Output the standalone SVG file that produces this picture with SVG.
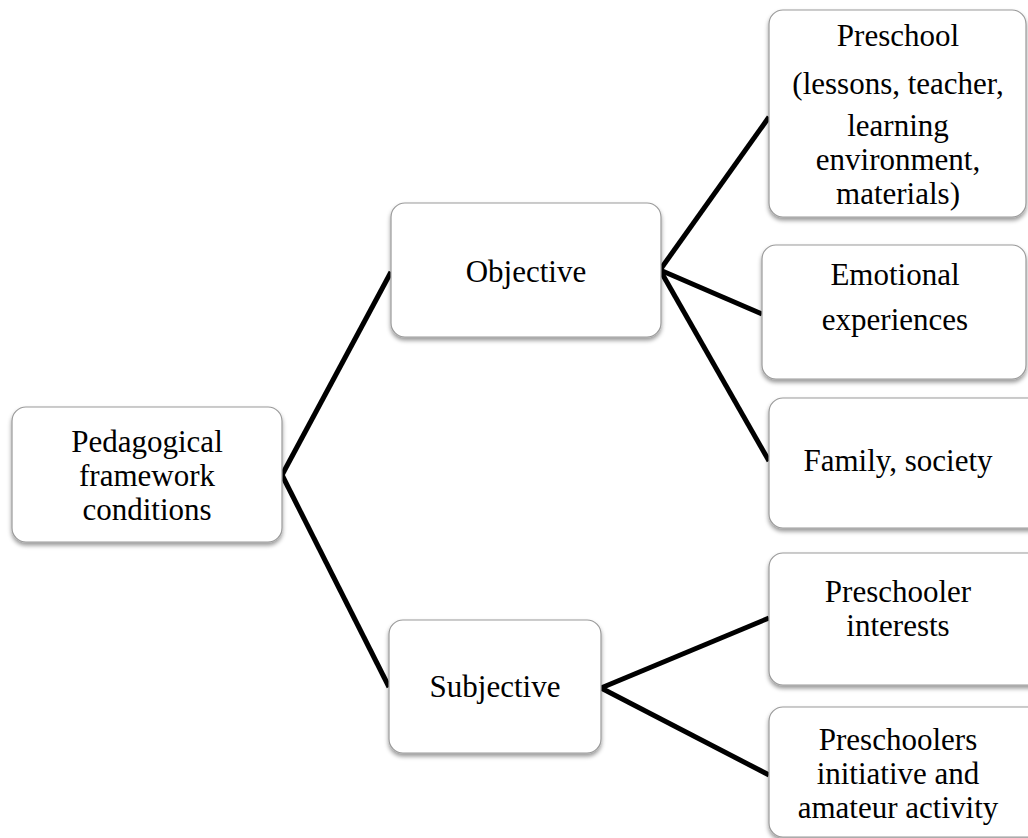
<svg xmlns="http://www.w3.org/2000/svg" width="1028" height="838" viewBox="0 0 1028 838">
<style>
.box{fill:#ffffff;stroke:#9a9a9a;stroke-width:1.2;filter:url(#sh)}
.t{font-family:"Liberation Serif","Times New Roman",serif;font-size:31px;fill:#000;text-anchor:middle}
.c{stroke:#000;stroke-width:5;fill:none;stroke-linecap:butt}
</style>
<defs>
<filter id="sh" x="-10%" y="-10%" width="120%" height="130%">
<feDropShadow dx="0" dy="3" stdDeviation="2" flood-color="#000" flood-opacity="0.4"/>
</filter>
</defs>
<rect width="1028" height="838" fill="#ffffff"/>
<g id="connectors">
<line class="c" x1="282" y1="475" x2="391" y2="272"/>
<line class="c" x1="282" y1="475" x2="389" y2="687"/>
<line class="c" x1="660" y1="270" x2="769" y2="117"/>
<line class="c" x1="660" y1="270" x2="762" y2="314"/>
<line class="c" x1="660" y1="270" x2="769" y2="461"/>
<line class="c" x1="601" y1="688" x2="769" y2="618"/>
<line class="c" x1="601" y1="688" x2="769" y2="775"/>
</g>
<g id="root">
<rect class="box" x="12" y="407" width="270" height="135" rx="14"/>
<text class="t" x="147" y="452">Pedagogical</text>
<text class="t" x="147" y="486">framework</text>
<text class="t" x="147" y="520">conditions</text>
</g>
<g id="objective">
<rect class="box" x="391" y="203" width="270" height="134" rx="14"/>
<text class="t" x="526" y="282">Objective</text>
</g>
<g id="subjective">
<rect class="box" x="389" y="620" width="212" height="133" rx="14"/>
<text class="t" x="495" y="697">Subjective</text>
</g>
<g id="preschool">
<rect class="box" x="769" y="10" width="257" height="207" rx="14"/>
<text class="t" x="898" y="46">Preschool</text>
<text class="t" x="898" y="94">(lessons, teacher,</text>
<text class="t" x="898" y="136">learning</text>
<text class="t" x="898" y="170">environment,</text>
<text class="t" x="898" y="204">materials)</text>
</g>
<g id="emotional">
<rect class="box" x="762" y="245" width="264" height="134" rx="14"/>
<text class="t" x="895" y="285">Emotional</text>
<text class="t" x="895" y="330">experiences</text>
</g>
<g id="family">
<rect class="box" x="769" y="398" width="275" height="130" rx="14"/>
<text class="t" x="898" y="471">Family, society</text>
</g>
<g id="interests">
<rect class="box" x="769" y="553" width="275" height="132" rx="14"/>
<text class="t" x="898" y="602">Preschooler</text>
<text class="t" x="898" y="636">interests</text>
</g>
<g id="initiative">
<rect class="box" x="769" y="707" width="275" height="130" rx="14"/>
<text class="t" x="898" y="750">Preschoolers</text>
<text class="t" x="898" y="784">initiative and</text>
<text class="t" x="898" y="818">amateur activity</text>
</g>
</svg>
